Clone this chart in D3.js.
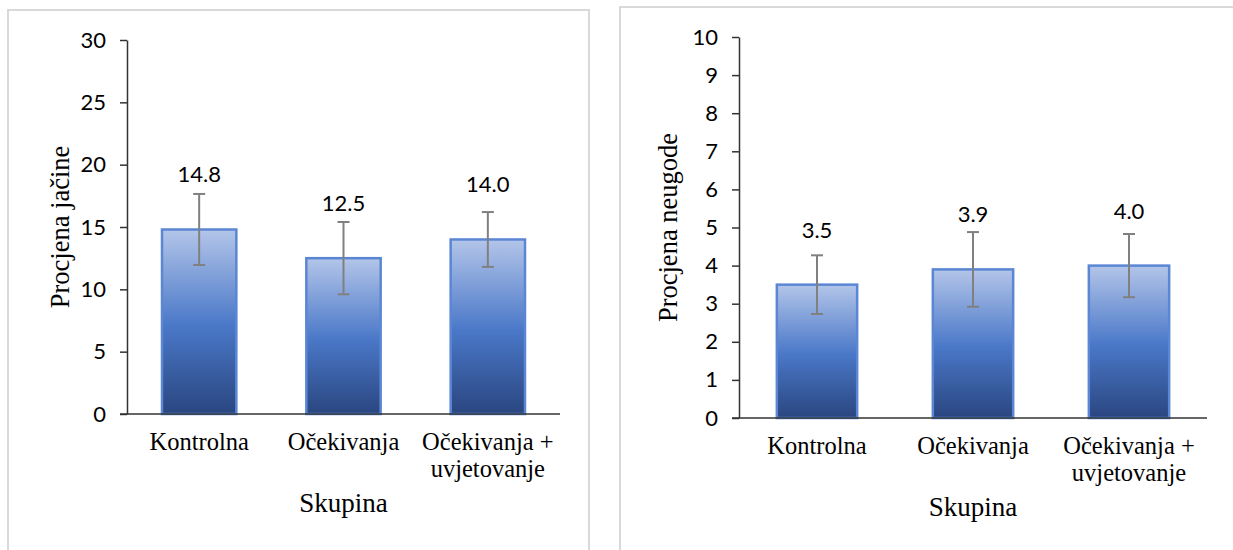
<!DOCTYPE html>
<html>
<head>
<meta charset="utf-8">
<script src="https://cdn.jsdelivr.net/npm/d3@7"></script>
<style>
  html, body { margin: 0; padding: 0; background: #ffffff; }
  svg { display: block; }
</style>
</head>
<body>
<svg id="chart" width="1233" height="550"></svg>
<script>
// ---- data ----
const categories = ["Kontrolna", "Očekivanja", "Očekivanja + uvjetovanje"];
const jacineMeans = [14.8, 12.5, 14.0];
const jacineErrors = [2.85, 2.9, 2.2];
const jacineTicks = [0, 5, 10, 15, 20, 25, 30];
const neugodeMeans = [3.5, 3.9, 4.0];
const neugodeErrors = [0.77, 0.98, 0.83];
const neugodeTicks = [0, 1, 2, 3, 4, 5, 6, 7, 8, 9, 10];
const xTitle = "Skupina";
const yTitleLeft = "Procjena jačine";
const yTitleRight = "Procjena neugode";

const svg = d3.select("#chart");
const serif = "'Liberation Serif', 'Times New Roman', serif";
const sans = "Lato, 'Noto Sans', sans-serif";

// gradient
const defs = svg.append("defs");
const grad = defs.append("linearGradient").attr("id", "barGrad")
  .attr("x1", 0).attr("y1", 0).attr("x2", 0).attr("y2", 1);
grad.append("stop").attr("offset", "0%").attr("stop-color", "#b3c5e9");
grad.append("stop").attr("offset", "52%").attr("stop-color", "#4a78c8");
grad.append("stop").attr("offset", "100%").attr("stop-color", "#2a4680");

function splitLabel(s) {
  const i = s.indexOf(" + ");
  return i < 0 ? [s] : [s.slice(0, i + 2), s.slice(i + 3)];
}

function panel(opts) {
  const { frame, xRange, yRange, yMax, ticks, means, errors, yTitle, yTitleX } = opts;
  // frame
  svg.append("rect")
    .attr("x", frame[0]).attr("y", frame[1]).attr("width", frame[2]).attr("height", frame[3])
    .attr("fill", "#ffffff").attr("stroke", "#d9d9d9").attr("stroke-width", 2);

  const x = d3.scaleBand().domain(categories).range(xRange).padding(0);
  const y = d3.scaleLinear().domain([0, yMax]).range(yRange);
  const g = svg.append("g");
  const bw = x.bandwidth() * 0.515;

  // bars
  g.selectAll("rect.bar").data(means).join("rect")
    .attr("class", "bar")
    .attr("x", (d, i) => x(categories[i]) + x.bandwidth() / 2 - bw / 2)
    .attr("y", d => y(d))
    .attr("width", bw)
    .attr("height", d => y(0) - y(d))
    .attr("fill", "url(#barGrad)")
    .attr("stroke", "#5a86d4").attr("stroke-width", 2.5);

  // error bars
  const eg = g.selectAll("g.err").data(means).join("g").attr("class", "err")
    .attr("stroke", "#808080").attr("stroke-width", 2);
  eg.append("line")
    .attr("x1", (d, i) => x(categories[i]) + x.bandwidth() / 2)
    .attr("x2", (d, i) => x(categories[i]) + x.bandwidth() / 2)
    .attr("y1", (d, i) => y(d + errors[i]))
    .attr("y2", (d, i) => y(d - errors[i]));
  [1, -1].forEach(s => {
    eg.append("line")
      .attr("x1", (d, i) => x(categories[i]) + x.bandwidth() / 2 - 6)
      .attr("x2", (d, i) => x(categories[i]) + x.bandwidth() / 2 + 6)
      .attr("y1", (d, i) => y(d + s * errors[i]))
      .attr("y2", (d, i) => y(d + s * errors[i]));
  });

  // value labels
  g.selectAll("text.val").data(means).join("text")
    .attr("class", "val")
    .attr("x", (d, i) => x(categories[i]) + x.bandwidth() / 2)
    .attr("y", d => y(d) - 55)
    .attr("dy", "0.36em")
    .attr("text-anchor", "middle")
    .attr("font-family", sans).attr("font-size", 22).attr("fill", "#000")
    .text(d => d3.format(".1f")(d));

  // y axis
  const ya = g.append("g").attr("transform", `translate(${xRange[0]},0)`)
    .call(d3.axisLeft(y).tickValues(ticks).tickSize(7).tickSizeOuter(0).tickPadding(14));
  ya.attr("font-family", null).attr("font-size", null);
  ya.select(".domain").attr("stroke", "#333").attr("stroke-width", 1.5);
  ya.selectAll(".tick line").attr("stroke", "#333").attr("stroke-width", 1.5);
  ya.selectAll(".tick text").attr("font-family", sans).attr("font-size", 22).attr("fill", "#000");

  // x axis
  const xa = g.append("g").attr("transform", `translate(0,${y(0)})`)
    .call(d3.axisBottom(x).tickSize(0).tickSizeOuter(0).tickPadding(0));
  xa.attr("font-family", null).attr("font-size", null);
  xa.select(".domain").remove();
  xa.append("line").attr("x1", xRange[0] - 7).attr("x2", xRange[1])
    .attr("stroke", "#333").attr("stroke-width", 1.5);
  xa.selectAll(".tick text").each(function (d) {
    const t = d3.select(this);
    t.text(null).attr("y", 0).attr("dy", null)
      .attr("font-family", serif).attr("font-size", 24.5).attr("fill", "#000");
    splitLabel(d).forEach((line, k) => {
      t.append("tspan").attr("x", 0).attr("y", 36 + k * 27).text(line);
    });
  });

  // titles
  svg.append("text")
    .attr("x", (xRange[0] + xRange[1]) / 2)
    .attr("y", y(0) + 98)
    .attr("text-anchor", "middle")
    .attr("font-family", serif).attr("font-size", 27).attr("fill", "#000")
    .text(xTitle);
  svg.append("text")
    .attr("transform", `translate(${yTitleX},${(yRange[0] + yRange[1]) / 2}) rotate(-90)`)
    .attr("text-anchor", "middle")
    .attr("font-family", serif).attr("font-size", 26.5).attr("fill", "#000")
    .text(yTitle);
}

panel({
  frame: [8, 10, 581, 600],
  xRange: [127, 560], yRange: [414, 40], yMax: 30,
  ticks: jacineTicks, means: jacineMeans, errors: jacineErrors,
  yTitle: yTitleLeft, yTitleX: 69
});
panel({
  frame: [620, 7, 700, 600],
  xRange: [739, 1207], yRange: [418, 37], yMax: 10,
  ticks: neugodeTicks, means: neugodeMeans, errors: neugodeErrors,
  yTitle: yTitleRight, yTitleX: 677
});
</script>
</body>
</html>
